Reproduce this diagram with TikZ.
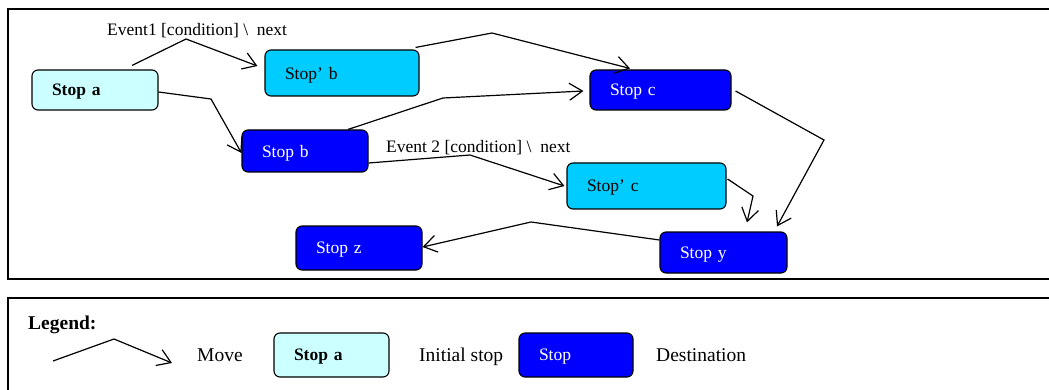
\documentclass[tikz,border=0pt]{standalone}
\usepackage{fontspec}
\setmainfont{Liberation Serif}
\usetikzlibrary{arrows.meta}
\definecolor{initcol}{HTML}{CCFFFF}
\definecolor{altcol}{HTML}{00CCFF}
\definecolor{destcol}{HTML}{0000FF}
\newcommand{\boxfont}{\fontsize{17.5}{20}\selectfont}
\newcommand{\legfont}{\fontsize{19.5}{22}\selectfont}
\begin{document}
\begin{tikzpicture}[x=1pt,y=-1pt,
    stopbox/.style={draw,rounded corners=6pt,line width=1.1pt,inner xsep=20pt,inner ysep=0pt,align=left,text depth=0pt,font=\boxfont},
    initial/.style={stopbox,fill=initcol,font=\boxfont\bfseries},
    alt/.style={stopbox,fill=altcol},
    dest/.style={stopbox,fill=destcol,text=white},
    move/.style={draw,line width=1.2pt,-{Straight Barb[length=13pt,width=17pt]}},
    frame/.style={draw,line width=1.6pt},
    lbl/.style={anchor=west,inner sep=0pt,font=\boxfont}]
\useasboundingbox (0,0) rectangle (1049,390);
\clip (0,0) rectangle (1049,390);
\draw[frame] (1060,9) -- (8,9) -- (8,279) -- (1060,279);
\draw[frame] (1060,298) -- (8,298) -- (8,400);
\node[initial,text width=86pt,minimum height=40pt] at (95,90)(a){Stop a};
\node[alt,text width=114pt,minimum height=46pt] at (342,73)(bp){Stop’ b};
\node[dest,text width=86pt,minimum height=42pt] at (305,151)(b){Stop b};
\node[dest,text width=101pt,minimum height=40pt] at (660.5,90)(c){Stop c};
\node[alt,text width=119pt,minimum height=46pt] at (646.5,186)(cp){Stop’ c};
\node[dest,text width=86pt,minimum height=44pt] at (359,248)(z){Stop z};
\node[dest,text width=87pt,minimum height=41pt] at (723.5,252.5)(y){Stop y};
\node[lbl] at (107,31)(ev1){Event1 [condition] \textbackslash\ \ next};
\node[lbl] at (386,148)(ev2){Event 2 [condition] \textbackslash\ \ next};
\coordinate (k1) at (186,39);
\coordinate (k2) at (211,99);
\coordinate (k3) at (492,33);
\coordinate (k4) at (443,98);
\coordinate (k5) at (470,155);
\coordinate (k6) at (824,140);
\coordinate (k7) at (753,196);
\coordinate (k8) at (531,222);
\draw[move] ([xshift=37pt,yshift=4pt]a.north) -- (k1) -- ([xshift=-7pt,yshift=7pt]bp.west);
\draw[move] ([yshift=-2pt]a.east) -- (k2) -- ([yshift=-2pt]b.west);
\draw[move] ([xshift=-4pt,yshift=2pt]bp.north east) -- (k3) -- ([xshift=-30.5pt,yshift=1pt]c.north);
\draw[move] ([xshift=43pt]b.north) -- (k4) -- ([xshift=-6pt,yshift=-1pt]c.west);
\draw[move] ([yshift=-12pt]b.east) -- (k5) -- ([xshift=-2pt]cp.west);
\draw[move] ([xshift=4pt,yshift=-1pt]c.east) -- (k6) -- ([xshift=53.5pt,yshift=5pt]y.north);
\draw[move] ([xshift=1pt,yshift=7pt]cp.east) -- (k7) -- ([xshift=23.5pt,yshift=9pt]y.north);
\draw[move] ([yshift=12.5pt]y.west) -- (k8) -- ([yshift=1pt]z.east);
\node[anchor=base west,inner sep=0pt,font=\legfont\bfseries] at (28,329)(leg){Legend:};
\coordinate (m0) at (53,361);
\coordinate (m1) at (114,339);
\coordinate (m2) at (172,363);
\draw[move] (m0) -- (m1) -- (m2);
\node[anchor=base west,inner sep=0pt,font=\legfont] at (197,361)(lmove){Move};
\node[initial,text width=75pt,minimum height=44pt] at (331.5,355)(la){Stop a};
\node[anchor=base west,inner sep=0pt,font=\legfont] at (419,361)(linit){Initial stop};
\node[dest,text width=74pt,minimum height=44pt] at (576,355)(ld){Stop};
\node[anchor=base west,inner sep=0pt,font=\legfont] at (656,361)(ldest){Destination};
\end{tikzpicture}
\end{document}
